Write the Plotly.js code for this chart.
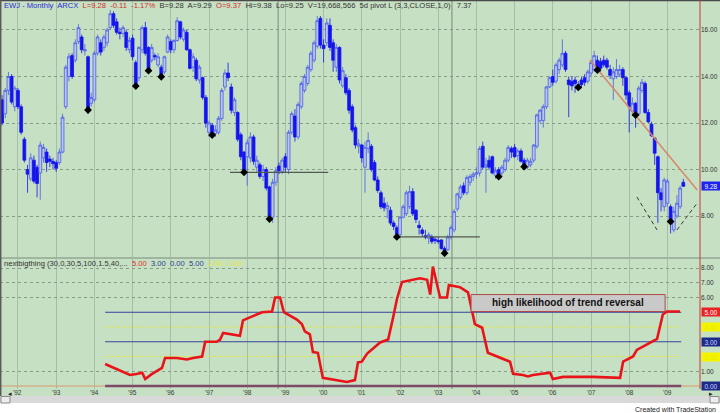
<!DOCTYPE html>
<html><head><meta charset="utf-8">
<script src="https://cdn.plot.ly/plotly-3.0.1.min.js"></script>
<style>html,body{margin:0;padding:0;background:#fff;}#chart{width:720px;height:413px;}</style>
</head><body><div id="chart"></div>
<script>
// ---- data (monthly EWJ candles, Aug 1991 .. Jun 2009) ----
const startYear = 1991, startMonth = 8;
const openP = [
13.0,12.4,13.4,14.0,12.7,
13.4,12.7,11.3,10.0,9.6,10.4,10.1,9.85,10.5,10.75,10.45,10.35,
10.3,10.3,10.75,12.7,14.0,14.9,14.7,15.5,15.7,15.1,14.85,12.85,
13.0,15.0,15.45,15.25,15.45,16.1,16.7,16.35,15.9,15.85,15.9,15.15,
15.65,14.6,13.95,15.15,16.1,15.25,14.7,14.9,14.5,14.4,14.2,15.05,
15.5,15.15,15.55,16.35,15.6,15.9,15.15,14.4,14.7,13.85,13.95,13.1,
11.6,11.9,11.55,11.6,12.2,13.55,14.15,13.55,12.45,12.45,11.5,10.75,
10.55,10.5,11.4,10.1,10.2,9.7,10.0,9.25,7.95,9.45,10.15,9.9,
10.55,10.0,11.6,12.3,11.4,12.7,13.4,13.7,14.3,14.7,15.3,16.5,
15.35,15.45,16.2,15.45,14.4,15.25,13.6,13.95,13.4,12.7,11.8,11.0,
11.05,10.1,10.9,11.0,10.3,9.55,9.0,8.55,8.3,8.25,7.7,7.5,
7.2,7.95,8.1,8.4,9.05,8.25,7.6,7.4,7.15,7.05,7.1,7.0,
6.95,6.97,6.6,6.55,7.1,7.4,8.3,8.8,9.3,9.0,9.45,9.7,
9.8,9.85,11.0,10.1,10.4,10.55,9.75,10.0,9.85,10.0,10.4,10.9,
10.95,10.6,10.8,10.4,10.1,10.2,10.4,11.0,12.1,12.1,12.7,13.55,
14.0,13.8,14.3,14.5,15.0,13.85,13.8,13.85,13.65,13.85,13.95,13.8,
14.15,14.3,14.7,14.65,14.7,14.7,14.3,13.9,14.0,14.1,14.3,13.95,
13.3,12.5,12.85,12.4,13.4,13.7,12.45,11.95,11.35,10.55,9.0,8.4,
8.55,8.4,7.4,8.0,8.4,9.45];
const highP = [
13.2,13.5,14.2,14.1,13.6,
13.5,12.8,11.4,10.2,10.7,10.6,10.2,11.2,11.1,10.9,10.6,10.5,
10.4,10.9,12.4,14.5,15.0,15.0,15.6,16.25,15.8,15.4,14.9,13.3,
15.1,15.8,15.6,15.8,16.1,16.86,16.8,16.5,16.1,16.2,16.0,15.7,
15.8,14.7,15.3,16.2,16.35,15.3,15.4,15.0,15.0,14.5,14.9,15.8,
15.6,15.6,16.55,16.4,16.1,16.0,15.2,15.0,14.8,14.5,14.0,13.2,
12.1,12.0,11.9,12.3,13.5,14.3,14.6,13.7,13.1,12.5,11.6,10.8,
11.3,11.6,11.5,10.6,10.3,10.2,10.1,9.3,9.6,10.1,10.3,10.5,
10.7,11.7,12.5,12.6,12.9,13.8,14.1,14.5,15.1,15.55,16.6,16.6,
15.6,16.5,16.5,15.6,15.4,15.3,14.4,14.1,13.5,12.8,11.9,11.3,
11.1,11.2,11.6,11.1,10.4,9.7,9.1,8.8,8.6,8.4,7.8,7.6,
8.0,8.5,9.1,9.3,9.2,8.3,7.8,7.5,7.4,7.3,7.2,7.1,
7.1,7.0,6.7,7.2,7.6,8.3,9.0,9.35,9.45,9.75,9.8,9.9,
10.1,11.0,11.2,10.5,10.6,10.6,10.1,10.1,10.2,10.5,11.05,11.0,
11.1,10.9,10.9,10.5,10.5,10.5,11.1,12.4,12.6,12.8,13.6,14.0,
14.3,14.6,14.8,15.6,15.1,14.0,14.0,14.0,13.8,14.0,14.1,14.3,
14.7,15.1,14.9,14.8,14.9,14.8,14.5,14.4,14.75,14.5,14.4,14.0,
13.4,13.1,12.9,13.6,13.9,13.8,12.6,12.05,11.4,10.6,9.2,9.65,
9.6,8.5,8.4,8.9,9.3,9.6];
const lowP = [
11.9,12.2,13.2,12.8,12.5,
12.6,11.5,10.3,9.0,9.5,9.4,8.8,8.7,10.3,9.9,10.1,10.0,
9.9,10.2,10.7,12.6,13.8,13.9,14.6,15.4,15.0,14.9,12.4,12.7,
12.9,14.9,14.9,15.1,15.3,16.0,16.1,15.8,15.6,15.7,15.1,15.0,
14.7,13.5,13.8,15.0,14.9,14.2,14.6,14.7,14.4,13.9,14.1,15.0,
15.0,15.0,15.5,15.6,15.5,15.1,14.3,14.2,13.8,13.7,13.0,11.8,
11.4,11.4,11.4,11.5,12.1,13.4,13.8,12.4,12.3,11.2,10.4,9.8,
9.3,10.3,10.2,9.9,9.6,9.5,9.1,7.8,7.7,9.3,9.8,9.8,
9.9,9.8,11.5,11.2,11.3,12.6,13.3,13.6,14.2,14.6,15.2,15.2,
14.6,15.3,15.1,14.2,14.2,13.7,13.5,13.2,12.4,11.6,10.9,10.7,
10.3,9.0,10.7,9.9,9.5,9.0,8.3,8.2,7.9,7.6,7.4,7.0,
7.1,7.9,8.0,8.3,8.0,7.7,7.2,7.1,7.0,6.8,6.8,6.8,
6.8,6.55,6.3,6.5,7.0,7.3,8.2,8.7,8.9,8.9,9.3,9.5,
9.6,9.7,10.0,9.0,10.0,9.8,9.6,9.55,9.7,9.9,10.3,10.5,
10.5,10.4,10.3,10.0,10.0,10.1,10.3,10.9,12.0,11.8,12.6,13.5,
13.6,13.7,14.1,14.4,14.2,12.25,13.4,13.3,13.4,13.5,13.6,13.7,
14.0,14.2,14.2,14.2,14.4,14.3,13.9,13.0,13.9,14.0,13.6,13.0,
11.6,12.3,11.8,12.3,13.3,12.4,12.0,11.4,10.2,7.7,8.2,8.2,
8.4,7.25,7.3,7.9,8.3,9.25];
const closeP = [
12.0,13.4,14.0,12.9,13.5,
12.7,11.6,10.4,9.8,10.5,9.5,9.4,11.05,10.95,10.3,10.35,10.25,
10.05,10.75,12.25,14.4,14.85,14.0,15.45,16.1,15.15,15.15,12.56,13.1,
15.0,15.7,15.05,15.7,16.0,16.7,16.2,15.9,15.85,16.1,15.25,15.55,
14.85,13.59,15.25,16.1,15.0,14.25,15.25,14.85,14.85,13.99,14.85,15.7,
15.15,15.55,16.4,15.7,16.0,15.15,14.35,14.85,13.9,14.4,13.1,12.0,
12.0,11.48,11.7,12.2,13.4,14.15,13.95,12.55,13.0,11.3,10.55,9.88,
11.15,11.4,10.35,10.4,9.7,10.0,9.2,7.87,9.45,9.95,9.95,10.4,
10.1,11.6,12.4,11.4,12.8,13.7,14.0,14.4,15.0,15.45,16.4,15.35,
15.2,16.3,15.25,14.7,15.25,13.85,14.25,13.3,12.55,11.7,11.05,11.1,
10.5,10.95,11.25,10.0,9.55,9.1,8.4,8.35,8.45,7.7,7.55,7.1,
7.95,8.4,9.0,9.05,8.1,7.85,7.5,7.25,7.1,7.2,6.9,6.95,
6.9,6.6,6.4,7.1,7.5,8.2,8.95,9.25,9.0,9.65,9.7,9.8,
9.85,10.9,10.1,10.2,10.1,9.85,9.95,9.69,10.1,10.4,10.95,10.75,
10.55,10.8,10.35,10.12,10.4,10.35,11.05,12.35,12.55,12.7,13.55,13.95,
13.75,14.5,14.7,15.0,14.3,13.65,13.6,13.7,13.53,13.65,13.75,14.2,
14.6,14.9,14.28,14.35,14.5,14.4,14.05,14.2,14.3,14.3,13.95,13.2,
12.7,12.85,12.34,13.5,13.75,12.45,12.05,11.45,10.7,9.0,8.7,9.55,
9.5,7.76,8.2,8.55,9.2,9.28];
const pivotMonths = ['1993-11','1995-02','1995-06','1995-10','1997-02','1997-12','1998-08',
  '2001-12','2003-03','2004-08','2005-04','2006-09','2007-03','2008-03','2009-02'];
const supportLines = [[1997.55, 2000.12, 9.88], [2001.95, 2004.09, 7.1]];
const trendX = [2006.97, 2009.78], trendY = [14.71, 9.12];
const vLeftX = [2008.2, 2008.73], vLeftY = [8.82, 7.4];
const vRightX = [2009.25, 2009.78], vRightY = [7.4, 8.56];
const timeLines = [1998.81, 2003.36];
// indicator "nextbigthing"
const indX = [1994.28,1994.93,1995.10,1995.25,1995.33,1995.50,1995.77,1995.85,1996.16,1996.42,1996.58,1996.82,1996.90,
 1997.20,1997.29,1997.37,1997.81,1997.89,1998.07,1998.39,1998.65,1998.73,1998.86,1998.96,1999.30,1999.43,1999.51,
 1999.64,1999.72,1999.85,1999.98,2000.61,2000.82,2000.90,2001.00,2001.14,2001.48,2001.69,2001.82,2001.92,2002.05,
 2002.52,2002.71,2002.79,2002.86,2003.05,2003.23,2003.28,2003.57,2003.78,2003.96,2004.15,2004.30,2004.88,2004.96,
 2005.22,2005.35,2005.48,2005.93,2006.00,2006.27,2007.05,2007.76,2007.84,2008.10,2008.20,2008.73,2008.88,2008.99,2009.33];
const indY = [1.49,0.75,0.82,0.90,0.48,0.80,1.23,1.90,1.90,1.80,1.90,2.00,3.00,
 3.00,3.15,3.60,3.40,4.45,4.65,5.00,5.05,6.00,6.00,5.00,4.50,4.20,3.70,
 3.50,2.30,2.25,0.55,0.27,0.40,1.60,1.65,2.20,2.95,3.15,4.65,5.90,7.05,
 7.30,7.20,6.20,8.10,6.00,6.00,6.85,6.70,6.35,4.20,3.95,2.25,1.65,0.82,
 0.75,0.65,0.75,0.90,0.48,0.62,0.62,0.55,1.65,2.00,2.45,3.20,4.85,5.05,5.05];
const levelStart = 1994.28, levelEnd = 2009.36;
const blueLevels = [5, 3], yellowLevels = [4, 2], zeroLevel = 0;
const yearTicks = [1992,1993,1994,1995,1996,1997,1998,1999,2000,2001,2002,2003,2004,2005,2006,2007,2008,2009];
const yearLabels = ["'92","'93","'94","'95","'96","'97","'98","'99","'00","'01","'02","'03","'04","'05","'06","'07","'08","'09"];
const priceTicks = [8,10,12,14,16];
const priceLabels = ['8.00','10.00','12.00','14.00','16.00'];
const indTicks = [1,6,7,8];
const indLabels = ['1.00','6.00','7.00','8.00'];
const lastPrice = 9.28;

// ---- geometry ----
const W = 720, H = 413, ML = 0, MR = 20, MT = 0, MB = 17;
const PW = W - ML - MR, PH = H - MT - MB;       // 700 x 396
const py = px => (PH - px) / PH;                 // pixel row -> paper y
const pxX = px => px / PW;                       // pixel col -> paper x
const candleX = closeP.map((_, i) => startYear + (startMonth - 1 + i) / 12);
const pivX = [], pivY = [];
pivotMonths.forEach(s => {
  const [y, m] = s.split('-').map(Number);
  const i = (y - startYear) * 12 + (m - startMonth);
  pivX.push(candleX[i]); pivY.push(closeP[i]);
});

const FONT = 'Liberation Sans, Arial, sans-serif';
const green = '#c6e0c3';
const traces = [];
traces.push({
  type: 'candlestick', x: candleX, open: openP, high: highP, low: lowP, close: closeP,
  xaxis: 'x', yaxis: 'y', hoverinfo: 'skip',
  increasing: {line: {color: '#4a5ee6', width: 0.8}, fillcolor: '#b9c4ef'},
  decreasing: {line: {color: '#1414ee', width: 0.8}, fillcolor: '#1414ee'},
  whiskerwidth: 0
});
supportLines.forEach(s => traces.push({type: 'scatter', mode: 'lines', x: [s[0], s[1]], y: [s[2], s[2]],
  xaxis: 'x', yaxis: 'y', line: {color: '#505a50', width: 1.2}, hoverinfo: 'skip'}));
traces.push({type: 'scatter', mode: 'lines', x: trendX, y: trendY, xaxis: 'x', yaxis: 'y',
  line: {color: '#d8866c', width: 1.5}, hoverinfo: 'skip'});
[[vLeftX, vLeftY], [vRightX, vRightY]].forEach(v => traces.push({type: 'scatter', mode: 'lines', x: v[0], y: v[1],
  xaxis: 'x', yaxis: 'y', line: {color: '#3a3a3a', width: 1, dash: '4px,3px'}, hoverinfo: 'skip'}));
traces.push({type: 'scatter', mode: 'markers', x: pivX, y: pivY, xaxis: 'x', yaxis: 'y',
  marker: {symbol: 'diamond', size: 6, color: '#000'}, hoverinfo: 'skip'});
// indicator levels
blueLevels.forEach(l => traces.push({type: 'scatter', mode: 'lines', x: [levelStart, levelEnd], y: [l, l],
  xaxis: 'x', yaxis: 'y2', line: {color: '#34449a', width: 1}, hoverinfo: 'skip'}));
yellowLevels.forEach(l => traces.push({type: 'scatter', mode: 'lines', x: [levelStart, levelEnd], y: [l, l],
  xaxis: 'x', yaxis: 'y2', line: {color: '#e6e62a', width: 1, dash: '3px,3px'}, hoverinfo: 'skip'}));
traces.push({type: 'scatter', mode: 'lines', x: [1991.53, 2009.85], y: [zeroLevel, zeroLevel],
  xaxis: 'x', yaxis: 'y2', line: {color: '#d99a6e', width: 1}, hoverinfo: 'skip'});
traces.push({type: 'scatter', mode: 'lines', x: [levelStart, levelEnd], y: [zeroLevel, zeroLevel],
  xaxis: 'x', yaxis: 'y2', line: {color: '#7e4a68', width: 2.5}, hoverinfo: 'skip'});
traces.push({type: 'scatter', mode: 'lines', x: indX, y: indY, xaxis: 'x', yaxis: 'y2',
  line: {color: '#e8141a', width: 2.6}, hoverinfo: 'skip'});

const shapes = [];
timeLines.forEach(t => shapes.push({type: 'line', xref: 'x', yref: 'paper', x0: t, x1: t, y0: py(389), y1: 1,
  line: {color: '#7c867c', width: 1}, layer: 'below'}));
// report box in indicator panel
shapes.push({type: 'rect', xref: 'x', yref: 'y2', x0: 2003.86, x1: 2008.94, y0: 5.05, y1: 6.2,
  fillcolor: '#c9c9c9', line: {color: '#b04848', width: 1}});
// panel separator, borders
shapes.push({type: 'line', xref: 'paper', yref: 'paper', x0: 0, x1: W / PW, y0: py(258), y1: py(258),
  line: {color: '#7a8a7a', width: 1}});
shapes.push({type: 'line', xref: 'paper', yref: 'paper', x0: 0, x1: W / PW, y0: py(0.5), y1: py(0.5),
  line: {color: '#4a4a4a', width: 1.5}});
shapes.push({type: 'line', xref: 'paper', yref: 'paper', x0: pxX(0.7), x1: pxX(0.7), y0: py(396), y1: 1,
  line: {color: '#5a5a5a', width: 1.5}});
shapes.push({type: 'line', xref: 'paper', yref: 'paper', x0: 1, x1: 1, y0: py(389), y1: 1,
  line: {color: '#c43a3a', width: 1}});
// scroll bar + footer strip
shapes.push({type: 'rect', xref: 'paper', yref: 'paper', x0: 0, x1: W / PW, y0: py(403), y1: py(396),
  fillcolor: '#d9d9d9', line: {width: 0}});
shapes.push({type: 'rect', xref: 'paper', yref: 'paper', x0: 0, x1: W / PW, y0: py(413), y1: py(403),
  fillcolor: '#ffffff', line: {width: 0}});
shapes.push({type: 'rect', xref: 'paper', yref: 'paper', x0: pxX(1), x1: pxX(10), y0: py(403), y1: py(396.5),
  fillcolor: '#ececec', line: {color: '#8a8a8a', width: 1}});
shapes.push({type: 'rect', xref: 'paper', yref: 'paper', x0: pxX(710), x1: pxX(719), y0: py(403), y1: py(396.5),
  fillcolor: '#ececec', line: {color: '#8a8a8a', width: 1}});

const annotations = [];
const hdr = '<span style="color:#2a2ad6">EWJ - Monthly  ARCX</span>  <span style="color:#d42a2a">L=9.28  -0.11  -1.17%</span>  ' +
  '<span style="color:#333">B=9.28  A=9.29</span>  <span style="color:#d42a2a">O=9.37</span>  ' +
  '<span style="color:#333">Hi=9.38  Lo=9.25  V=19,668,566  5d pivot L (3,3,CLOSE,1,0)   7.37</span>';
annotations.push({xref: 'paper', yref: 'paper', x: pxX(2), y: py(5.5), xanchor: 'left', yanchor: 'middle',
  text: hdr, showarrow: false, font: {family: FONT, size: 7.6, color: '#333'}});
const hdr2 = '<span style="color:#333">nextbigthing (30,0,30,5,100,1.5,40,...</span>  <span style="color:#e02a2a">5.00</span>  ' +
  '<span style="color:#2b3a8f">3.00  0.00  5.00</span>  <span style="color:#e8e830">2.00  2.00</span>';
annotations.push({xref: 'paper', yref: 'paper', x: pxX(2), y: py(263), xanchor: 'left', yanchor: 'middle',
  text: hdr2, showarrow: false, font: {family: FONT, size: 7.6, color: '#333'}});
yearTicks.forEach((t, i) => annotations.push({xref: 'x', yref: 'paper', x: t, y: py(392), xanchor: 'center',
  yanchor: 'middle', text: yearLabels[i], showarrow: false, font: {family: FONT, size: 6.5, color: '#3a3a3a'}}));
annotations.push({xref: 'x', yref: 'y2', x: 2006.4, y: 5.63, text: '<b>high likelihood of trend reversal</b>',
  showarrow: false, font: {family: FONT, size: 10, color: '#111'}});
function valBox(y, yref, txt, bg, fg) {
  annotations.push({xref: 'paper', yref: yref, x: pxX(701), y: y, xanchor: 'left', yanchor: 'middle',
    text: txt, showarrow: false, bgcolor: bg, width: 17, height: 7, borderpad: 0.5,
    font: {family: FONT, size: 6.5, color: fg}});
}
valBox(lastPrice, 'y', lastPrice.toFixed(2), '#1e24f0', '#ffffff');
valBox(5, 'y2', '5.00', '#ea2222', '#ffffff');
valBox(4, 'y2', '4.00', '#f4f400', '#e6e600');
valBox(3, 'y2', '3.00', '#1c2a88', '#c8d2ff');
valBox(2, 'y2', '2.00', '#f4f400', '#e6e600');
valBox(0, 'y2', '0.00', '#1c2a88', '#c8d2ff');
annotations.push({xref: 'paper', yref: 'paper', x: pxX(5.5), y: py(399.8), text: '◂', showarrow: false,
  font: {family: 'DejaVu Sans', size: 7, color: '#222'}});
annotations.push({xref: 'paper', yref: 'paper', x: pxX(714.5), y: py(399.8), text: '▸', showarrow: false,
  font: {family: 'DejaVu Sans', size: 7, color: '#222'}});
annotations.push({xref: 'paper', yref: 'paper', x: pxX(718), y: py(409), xanchor: 'right', yanchor: 'middle',
  text: 'Created with TradeStation', showarrow: false, font: {family: FONT, size: 7, color: '#222'}});

const layout = {
  width: W, height: H, margin: {l: ML, r: MR, t: MT, b: MB, pad: 0},
  paper_bgcolor: green, plot_bgcolor: green, showlegend: false, font: {family: FONT},
  boxgap: 0.12, boxgroupgap: 0,
  xaxis: {type: 'linear', range: [1991.529, 2009.853], anchor: 'y2', tickvals: yearTicks, showticklabels: false,
    ticks: '', showgrid: true, gridcolor: '#a6bda6', gridwidth: 1, zeroline: false, showline: false,
    rangeslider: {visible: false}, fixedrange: true},
  yaxis: {domain: [py(257), 1], range: [6.237, 17.29], side: 'right', anchor: 'x', tickvals: priceTicks,
    ticktext: priceLabels, tickfont: {family: FONT, size: 6.5, color: '#333'}, ticks: '', showgrid: true,
    gridcolor: '#869c86', griddash: 'dot', gridwidth: 1, zeroline: false, showline: false, fixedrange: true},
  yaxis2: {domain: [py(389), py(259)], range: [-0.203, 8.61], side: 'right', anchor: 'x', tickvals: indTicks,
    ticktext: indLabels, tickfont: {family: FONT, size: 6.5, color: '#333'}, ticks: '', showgrid: true,
    gridcolor: '#869c86', griddash: 'dot', gridwidth: 1, zeroline: false, showline: false, fixedrange: true},
  shapes: shapes, annotations: annotations
};
Plotly.newPlot('chart', traces, layout, {staticPlot: true, displayModeBar: false});
</script></body></html>
